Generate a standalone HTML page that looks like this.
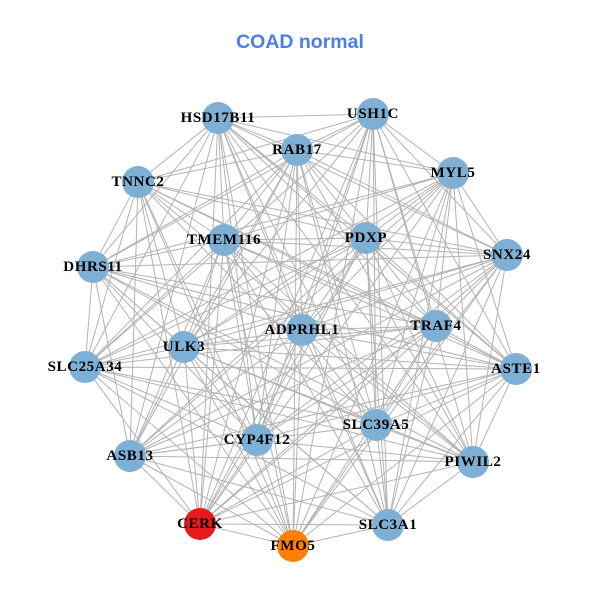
<!DOCTYPE html>
<html><head><meta charset="utf-8"><style>
body{margin:0;background:#fff;width:600px;height:600px;overflow:hidden}
svg{display:block}
text.l{font-family:"Liberation Serif",serif;font-weight:bold;font-size:15px;letter-spacing:0.6px;fill:#000;text-anchor:middle;dominant-baseline:central}
</style></head><body>
<svg id="s" width="600" height="600" xmlns="http://www.w3.org/2000/svg">
<text x="300" y="42" text-anchor="middle" dominant-baseline="central" font-family="Liberation Sans,sans-serif" font-weight="bold" font-size="19.5" fill="#4a7fe8">COAD normal</text>
<g id="e" stroke="#b3b3b3" stroke-width="1"></g>
<g id="n"></g>
</svg>
<script>
var N=[["HSD17B11",218,118],["USH1C",373,114],["RAB17",297,150],["MYL5",453,173],["TNNC2",138,182],["TMEM116",224,240],["PDXP",366,238],["SNX24",507,255],["DHRS11",93,267],["ADPRHL1",302,330],["TRAF4",436,326],["ULK3",184,347],["SLC25A34",85,367],["ASTE1",516,369],["SLC39A5",376,425],["CYP4F12",257,440],["ASB13",130,456],["PIWIL2",473,462],["CERK",200,524,"#e41a1c"],["FMO5",293,546,"#ff7f00"],["SLC3A1",388,525]];
var ns="http://www.w3.org/2000/svg",e=document.getElementById("e"),g=document.getElementById("n");
for(var i=0;i<N.length;i++)for(var j=i+1;j<N.length;j++){
 if((i*7+j*3)%11==0)continue;
 var l=document.createElementNS(ns,"line");
 l.setAttribute("x1",N[i][1]);l.setAttribute("y1",N[i][2]);l.setAttribute("x2",N[j][1]);l.setAttribute("y2",N[j][2]);e.appendChild(l);}
N.forEach(function(d){var c=document.createElementNS(ns,"circle");c.setAttribute("cx",d[1]);c.setAttribute("cy",d[2]);c.setAttribute("r",16);c.setAttribute("fill",d[3]||"#7eb0d5");g.appendChild(c);});
N.forEach(function(d){var t=document.createElementNS(ns,"text");t.setAttribute("class","l");t.setAttribute("x",d[1]);t.setAttribute("y",d[2]);t.textContent=d[0];g.appendChild(t);});
</script>
</body></html>
